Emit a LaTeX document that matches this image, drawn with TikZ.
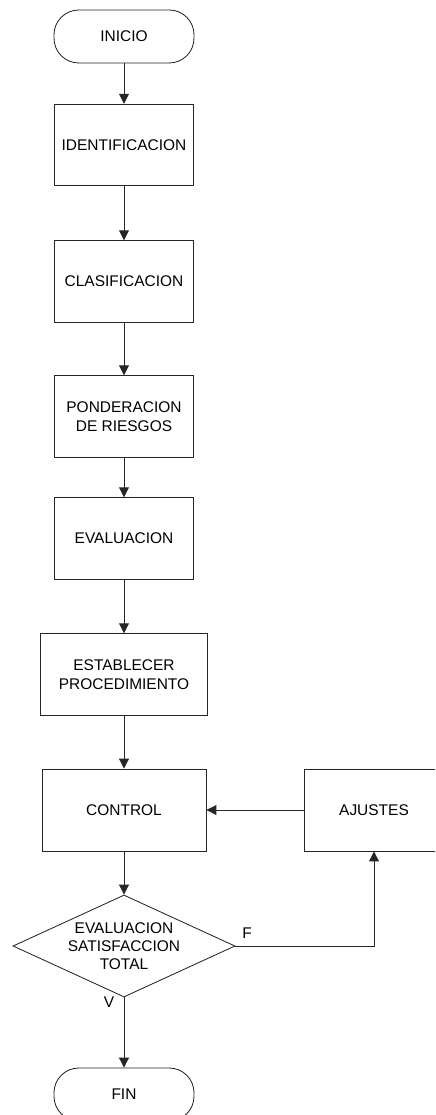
\documentclass[tikz,border=0pt]{standalone}
\usepackage{fontspec}
\setmainfont{Liberation Sans}
\usetikzlibrary{shapes.geometric, arrows.meta, positioning, calc}

\begin{document}
\begin{tikzpicture}[
    x=0.025cm, y=-0.025cm,
    font=\fontsize{11}{13.5}\selectfont,
    proc/.style={rectangle, draw=black!85, line width=0.6pt, minimum width=3.48cm, minimum height=2.04cm, align=center, inner sep=2pt},
    term/.style={rectangle, rounded corners=0.62cm, draw=black!85, line width=0.6pt, minimum width=3.5cm, minimum height=1.325cm},
    decis/.style={diamond, draw=black!85, line width=0.6pt, minimum width=5.55cm, minimum height=2.55cm, inner sep=0pt},
    flow/.style={draw=black!85, line width=0.6pt, -{Triangle[length=7pt, width=7pt]}}
]
    \useasboundingbox (0,0) rectangle (435,1115);
    \clip (0,0) rectangle (435,1115);

    \node[term] (inicio) at (124,36.5) {INICIO};
    \node[proc] (ident) at (124,145) {IDENTIFICACION};
    \node[proc] (clasif) at (124,281.5) {CLASIFICACION};
    \node[proc] (ponder) at (124,416.5) {PONDERACION\\DE RIESGOS};
    \node[proc] (evalua) at (124,538.5) {EVALUACION};
    \node[proc, minimum width=4.175cm] (proced) at (124,674.5) {ESTABLECER\\PROCEDIMIENTO};
    \node[proc, minimum width=4.1cm, minimum height=2.05cm] (control) at (124,810) {CONTROL};
    \node[proc, minimum width=3.5cm, minimum height=2.05cm] (ajustes) at (374,810) {AJUSTES};
    \node[decis, label={[align=center, font=\fontsize{11}{12.8}\selectfont]center:EVALUACION\\SATISFACCION\\TOTAL}] (satisf) at (124,946) {};
    \node[term] (fin) at (124,1094.5) {FIN};
    \node (lblf) at (247,933) {F};
    \node (lblv) at (109,1002) {V};

    \draw[flow] (inicio) -- (ident);
    \draw[flow] (ident) -- (clasif);
    \draw[flow] (clasif) -- (ponder);
    \draw[flow] (ponder) -- (evalua);
    \draw[flow] (evalua) -- (proced);
    \draw[flow] (proced) -- (control);
    \draw[flow] (control) -- (satisf);
    \draw[flow] (ajustes) -- (control);
    \draw[flow] (satisf.east) -| (ajustes.south);
    \draw[flow] (satisf) -- (fin);
\end{tikzpicture}
\end{document}
